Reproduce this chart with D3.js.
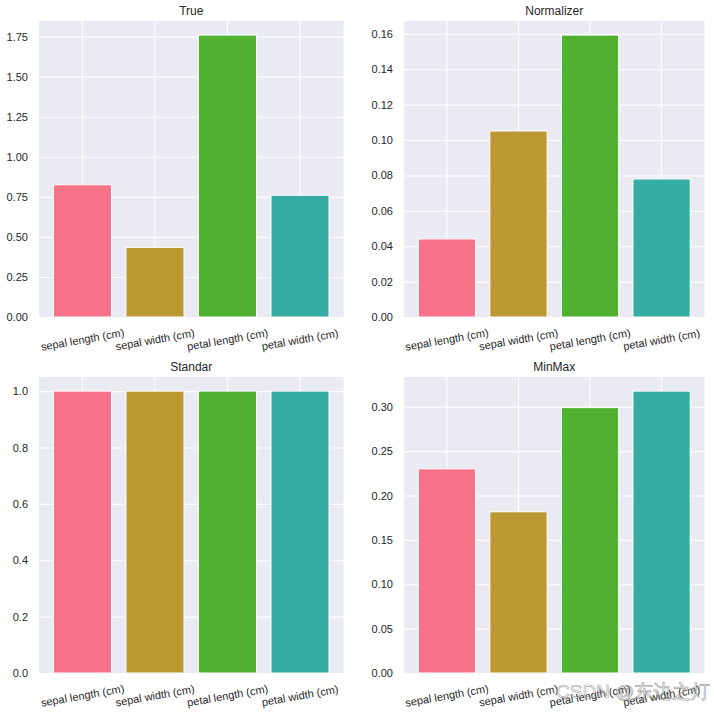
<!DOCTYPE html>
<html><head><meta charset="utf-8">
<script src="https://cdn.jsdelivr.net/npm/d3@7"></script>
<style>body{margin:0;background:#fff}svg{display:block}text{font-family:"Liberation Sans",Arial,sans-serif;fill:#262626}</style>
</head><body>
<svg id="c" width="714" height="714"></svg>
<script>
const categories = ["sepal length (cm)", "sepal width (cm)", "petal length (cm)", "petal width (cm)"];
const colors = ["#f77189", "#bb9832", "#50b131", "#36ada4"];
const titles = ["True", "Normalizer", "Standar", "MinMax"];
const valuesTrue = [0.8253, 0.4344, 1.7594, 0.7596];
const valuesNormalizer = [0.0441, 0.1051, 0.1593, 0.0780];
const valuesStandar = [1.0, 1.0, 1.0, 1.0];
const valuesMinMax = [0.2300, 0.1816, 0.2990, 0.3176];
const ticksTrue = [0, 0.25, 0.5, 0.75, 1.0, 1.25, 1.5, 1.75];
const ticksNormalizer = [0, 0.02, 0.04, 0.06, 0.08, 0.10, 0.12, 0.14, 0.16];
const ticksStandar = [0, 0.2, 0.4, 0.6, 0.8, 1.0];
const ticksMinMax = [0, 0.05, 0.10, 0.15, 0.20, 0.25, 0.30];
const formats = [".2f", ".2f", ".1f", ".2f"];

const panels = [
  {title: titles[0], values: valuesTrue, ticks: ticksTrue, fmt: formats[0], x0: 39, x1: 343.5, y0: 21, y1: 317},
  {title: titles[1], values: valuesNormalizer, ticks: ticksNormalizer, fmt: formats[1], x0: 404, x1: 704.5, y0: 21, y1: 317},
  {title: titles[2], values: valuesStandar, ticks: ticksStandar, fmt: formats[2], x0: 39, x1: 343.5, y0: 377, y1: 673},
  {title: titles[3], values: valuesMinMax, ticks: ticksMinMax, fmt: formats[3], x0: 404, x1: 704.5, y0: 377, y1: 673}
];

const svg = d3.select("#c");
panels.forEach(p => {
  const g = svg.append("g");
  const x = d3.scaleBand().domain(categories).range([p.x0, p.x1]).paddingInner(0.2).paddingOuter(0.2);
  const y = d3.scaleLinear().domain([0, d3.max(p.values) * 1.05]).range([p.y1, p.y0]);
  g.append("rect").attr("x", p.x0).attr("y", p.y0).attr("width", p.x1 - p.x0).attr("height", p.y1 - p.y0).attr("fill", "#eaeaf2");
  // grid
  const yAxis = d3.axisLeft(y).tickValues(p.ticks).tickFormat(d3.format(p.fmt)).tickSize(-(p.x1 - p.x0)).tickPadding(11);
  const ya = g.append("g").attr("transform", `translate(${p.x0},0)`).call(yAxis);
  ya.select(".domain").remove();
  ya.selectAll("line").attr("stroke", "#fff").attr("stroke-width", 1.1);
  ya.selectAll("text").attr("font-size", 11).attr("fill", "#262626");
  const xAxis = d3.axisBottom(x).tickSize(-(p.y1 - p.y0)).tickFormat("");
  const xa = g.append("g").attr("transform", `translate(${-x.bandwidth()*0 + 0},${p.y1})`).call(xAxis);
  xa.select(".domain").remove();
  xa.selectAll("line").attr("stroke", "#fff").attr("stroke-width", 1.1);
  // bars
  g.selectAll(".bar").data(p.values).enter().append("rect")
    .attr("x", (d, i) => x(categories[i]))
    .attr("y", d => y(d))
    .attr("width", x.bandwidth())
    .attr("height", d => y(0) - y(d))
    .attr("fill", (d, i) => colors[i])
    .attr("stroke", "#fff").attr("stroke-width", 1);
  // x labels
  categories.forEach(c => {
    const cx = x(c) + x.bandwidth() / 2, cy = p.y1 + 22.5;
    g.append("text").attr("transform", `translate(${cx},${cy}) rotate(-10)`)
      .attr("text-anchor", "middle").attr("dominant-baseline", "central")
      .attr("font-size", 11).text(c);
  });
  g.append("text").attr("x", (p.x0 + p.x1) / 2).attr("y", p.y0 - 6).attr("text-anchor", "middle")
    .attr("font-size", 12).text(p.title);
});
// watermark
svg.append("text").attr("x", 556).attr("y", 698).attr("font-size", 19)
  .attr("font-family", "'Noto Sans CJK SC', sans-serif")
  .style("fill", "rgba(255,255,255,0.4)").style("stroke", "rgba(90,90,90,0.55)").style("stroke-width", 0.7)
  .text("CSDN @东边之灯");
</script>
</body></html>
